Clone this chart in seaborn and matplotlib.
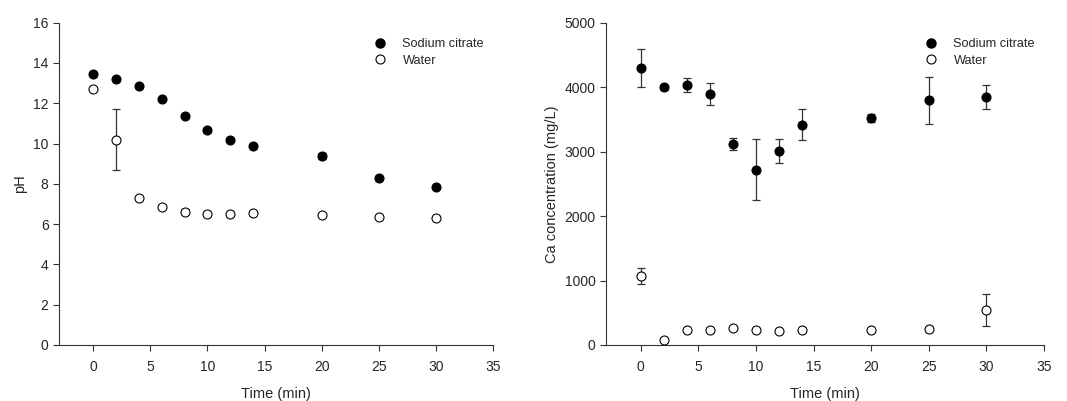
import numpy as np
import pandas as pd
import matplotlib
matplotlib.use("Agg")
import matplotlib.pyplot as plt
import seaborn as sns
from matplotlib.lines import Line2D

time = [0, 2, 4, 6, 8, 10, 12, 14, 20, 25, 30]

ph_citrate = [13.45, 13.2, 12.85, 12.2, 11.35, 10.65, 10.2, 9.9, 9.4, 8.3, 7.85]
ph_citrate_err = [0.12, 0.08, 0.08, 0.1, 0.08, 0.06, 0.06, 0.06, 0.15, 0.06, 0.05]
ph_water = [12.7, 10.2, 7.3, 6.87, 6.62, 6.52, 6.52, 6.55, 6.47, 6.36, 6.29]
ph_water_err = [0.05, 1.5, 0.05, 0.1, 0.12, 0.1, 0.05, 0.05, 0.05, 0.05, 0.05]

ca_citrate = [4290, 4000, 4030, 3895, 3120, 2720, 3005, 3420, 3525, 3795, 3845]
ca_citrate_err = [295, 40, 105, 170, 95, 470, 185, 240, 65, 360, 190]
ca_water = [1070, 80, 225, 235, 270, 235, 220, 235, 235, 245, 548]
ca_water_err = [120, 10, 30, 10, 15, 10, 10, 20, 10, 20, 250]

series_names = ["Sodium citrate", "Water"]

sns.set_style("ticks")
plt.rcParams['font.family'] = ['Liberation Sans', 'DejaVu Sans']

fig = plt.figure(figsize=(10.67, 4.01), dpi=100)
ax1 = fig.add_axes([0.0553, 0.1397, 0.4068, 0.8037])
ax2 = fig.add_axes([0.568, 0.1397, 0.4105, 0.8037])

def draw(ax, c, ce, w, we, ylim, yticks, ylabel):
    df = pd.DataFrame({
        "Time": time * 2,
        "Value": c + w,
        "Series": [series_names[0]] * len(time) + [series_names[1]] * len(time),
    })
    ax.errorbar(time, c, yerr=ce, fmt="none", ecolor="#333333", elinewidth=0.9,
                capsize=3, capthick=0.9, zorder=1)
    ax.errorbar(time, w, yerr=we, fmt="none", ecolor="#333333", elinewidth=0.9,
                capsize=3, capthick=0.9, zorder=1)
    sns.scatterplot(data=df[df.Series == series_names[0]], x="Time", y="Value",
                    ax=ax, color="black", edgecolor="black", s=42, linewidth=0.8,
                    legend=False, zorder=3)
    sns.scatterplot(data=df[df.Series == series_names[1]], x="Time", y="Value",
                    ax=ax, color="white", edgecolor="black", s=42, linewidth=0.8,
                    legend=False, zorder=3)
    ax.set_xlim(-3, 35)
    ax.set_ylim(*ylim)
    ax.set_xticks([0, 5, 10, 15, 20, 25, 30, 35])
    ax.set_yticks(yticks)
    ax.set_xlabel("Time (min)", fontsize=10.5, labelpad=9)
    ax.set_ylabel(ylabel, fontsize=10.5, labelpad=4)
    ax.tick_params(axis="both", labelsize=10, direction="out", length=4,
                   width=0.8, color="#333333")
    ax.tick_params(axis="x", pad=7)
    for s in ["top", "right"]:
        ax.spines[s].set_visible(False)
    for s in ["left", "bottom"]:
        ax.spines[s].set_linewidth(0.8)
        ax.spines[s].set_color("#333333")
    handles = [
        Line2D([], [], marker="o", linestyle="none", markerfacecolor="black",
               markeredgecolor="black", markersize=6.5),
        Line2D([], [], marker="o", linestyle="none", markerfacecolor="white",
               markeredgecolor="black", markersize=6.5, markeredgewidth=0.8),
    ]
    ax.legend(handles, series_names, loc="upper right", bbox_to_anchor=(1.0, 0.98),
              frameon=False, fontsize=9.2, handletextpad=0.75, labelspacing=0.35,
              borderaxespad=0.3)

draw(ax1, ph_citrate, ph_citrate_err, ph_water, ph_water_err,
     (0, 16), [0, 2, 4, 6, 8, 10, 12, 14, 16], "pH")
draw(ax2, ca_citrate, ca_citrate_err, ca_water, ca_water_err,
     (0, 5000), [0, 1000, 2000, 3000, 4000, 5000], "Ca concentration (mg/L)")

fig.savefig("out.png", dpi=100)
